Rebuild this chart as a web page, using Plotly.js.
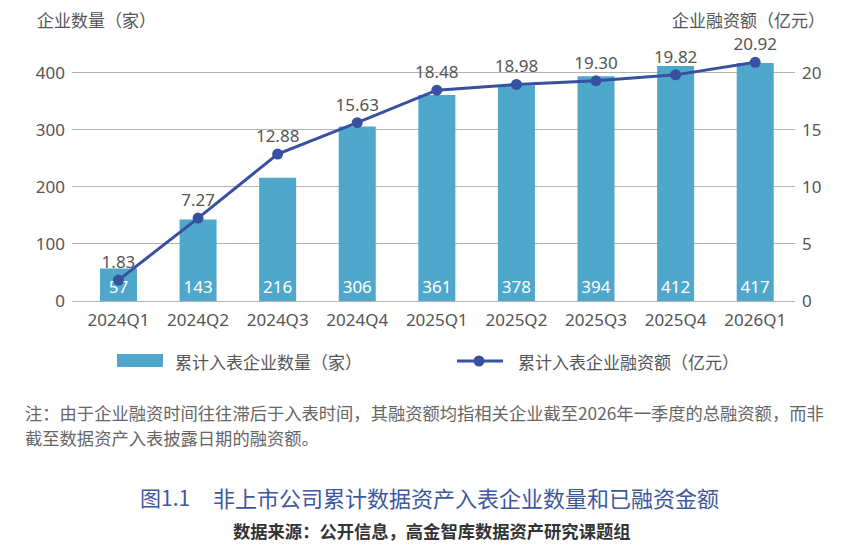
<!DOCTYPE html>
<html><head><meta charset="utf-8">
<script src="https://cdn.plot.ly/plotly-3.0.1.min.js"></script>
<style>html,body{margin:0;padding:0;background:#fff;}#chart{width:850px;height:553px;}</style>
</head><body><div id="chart"></div>
<script>
const categories = ["2024Q1","2024Q2","2024Q3","2024Q4","2025Q1","2025Q2","2025Q3","2025Q4","2026Q1"];
const companyCounts = [57,143,216,306,361,378,394,412,417];
const financing = [1.83,7.27,12.88,15.63,18.48,18.98,19.30,19.82,20.92];
const financingLabels = ["1.83","7.27","12.88","15.63","18.48","18.98","19.30","19.82","20.92"];
const leftTicks = [0,100,200,300,400];
const rightTicks = [0,5,10,15,20];
const barName = "累计入表企业数量（家）";
const lineName = "累计入表企业融资额（亿元）";
const leftTitle = "企业数量（家）";
const rightTitle = "企业融资额（亿元）";
const noteLine1 = "注：由于企业融资时间往往滞后于入表时间，其融资额均指相关企业截至2026年一季度的总融资额，而非";
const noteLine2 = "截至数据资产入表披露日期的融资额。";
const figNo = "图1.1";
const figTitle = "非上市公司累计数据资产入表企业数量和已融资金额";
const source = "数据来源：公开信息，高金智库数据资产研究课题组";

const FONT = "Noto Sans CJK SC, Noto Sans, sans-serif";
const NUMFONT = "Noto Sans, Noto Sans CJK SC, sans-serif";
const barColor = "#4FA8CB";
const lineColor = "#3751A0";
const textGrey = "#555555";

// plot-area geometry in pixels, for placing the surrounding texts
const L = 72, R = 55, T = 50, B = 252;
const W = 850 - L - R, H = 553 - T - B;
const px = x => (x - L) / W;
const py = y => (T + H - y) / H;

const traces = [
  {
    type: "bar", name: barName, showlegend: false,
    x: categories, y: companyCounts,
    marker: {color: barColor},
    text: companyCounts.map(String), textposition: "inside", insidetextanchor: "start",
    textfont: {color: "#ffffff", size: 17, family: NUMFONT},
    cliponaxis: false, hoverinfo: "skip"
  },
  {
    type: "scatter", mode: "lines+markers+text", name: lineName, showlegend: false,
    x: categories, y: financing, yaxis: "y2",
    line: {color: lineColor, width: 3},
    marker: {color: lineColor, size: 11},
    text: financingLabels, textposition: "top center",
    textfont: {color: textGrey, size: 17, family: NUMFONT},
    cliponaxis: false, hoverinfo: "skip"
  }
];

const ann = (text, x, y, size, color, xanchor, extra) => Object.assign({
  text, xref: "paper", yref: "paper", x: px(x), y: py(y), xanchor: xanchor || "left",
  yanchor: "middle", showarrow: false, font: {size, color, family: FONT}
}, extra || {});

const layout = {
  width: 850, height: 553,
  margin: {l: L, r: R, t: T, b: B},
  paper_bgcolor: "#ffffff", plot_bgcolor: "#ffffff",
  font: {family: FONT, color: textGrey},
  bargap: 0.535,
  showlegend: false,
  xaxis: {type: "category", range: [-0.584, 8.5], tickfont: {size: 17, color: textGrey, family: NUMFONT},
    showgrid: false, zeroline: false, showline: false, ticks: "", ticklabelstandoff: 7, fixedrange: true},
  yaxis: {range: [0, 440], tickvals: leftTicks, tickfont: {size: 17, color: textGrey, family: NUMFONT},
    showgrid: true, gridcolor: "#b3b3b3", gridwidth: 1, zeroline: true, zerolinecolor: "#b3b3b3", zerolinewidth: 1,
    showline: false, ticks: "", ticklabelstandoff: 6},
  yaxis2: {range: [0, 22], tickvals: rightTicks, overlaying: "y", side: "right",
    tickfont: {size: 17, color: textGrey, family: NUMFONT}, showgrid: false, zeroline: false, showline: false,
    ticks: "", ticklabelstandoff: 6},
  shapes: [
    {type: "rect", xref: "paper", yref: "paper", x0: px(117), x1: px(163), y0: py(367), y1: py(354),
      fillcolor: barColor, line: {width: 0}},
    {type: "line", xref: "paper", yref: "paper", x0: px(457), x1: px(503), y0: py(361), y1: py(361),
      line: {color: lineColor, width: 3}},
    {type: "circle", xref: "paper", yref: "paper", x0: px(473.5), x1: px(484.5), y0: py(366.5), y1: py(355.5),
      fillcolor: lineColor, line: {width: 0}}
  ],
  annotations: [
    ann(leftTitle, 35, 19, 17, textGrey, "left"),
    ann(rightTitle, 827, 19, 17, textGrey, "right"),
    ann(barName, 173, 361, 17, textGrey, "left"),
    ann(lineName, 516, 361, 17, textGrey, "left"),
    ann(noteLine1, 23, 412, 17.3, "#666666", "left"),
    ann(noteLine2, 23, 437, 17.3, "#666666", "left"),
    ann(figNo, 165, 497, 21, "#3D58A0", "center"),
    ann(figTitle, 211, 497, 22, "#3D58A0", "left"),
    ann("<b>" + source + "</b>", 431, 530, 17.3, "#333333", "center")
  ]
};

Plotly.newPlot("chart", traces, layout, {displayModeBar: false, staticPlot: true});
</script>
</body></html>
